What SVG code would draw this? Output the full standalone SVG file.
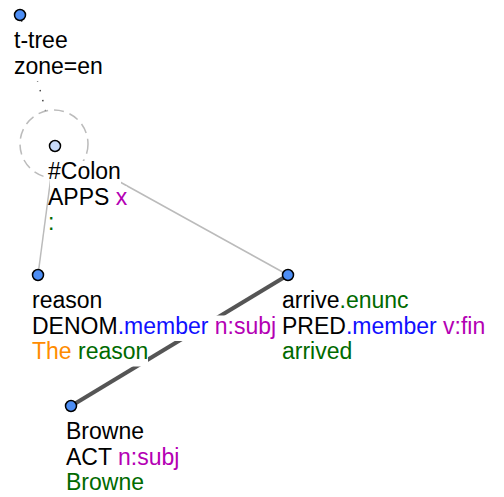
<svg xmlns="http://www.w3.org/2000/svg" width="504" height="497" viewBox="0 0 504 497">
<style>
text{font-family:"Liberation Sans",Arial,sans-serif;font-size:23px;fill:#000}
.bg{fill:#fff;stroke:none}
.b{fill:#1010ff}.m{fill:#b400b4}.g{fill:#006a00}.o{fill:#ff8c00}
.n{fill:#4d8ef5;stroke:#000;stroke-width:1.5}
.nc{fill:#c8daf8;stroke:#000;stroke-width:1.5}
.thin{stroke:#bbb;stroke-width:1.5;fill:none}
.thick{stroke:#555;stroke-width:4;fill:none}
.dot{stroke:#444;stroke-width:1.5;stroke-dasharray:1.5,8.8;stroke-dashoffset:-5.5;fill:none}
.halo{fill:#fff;stroke:#bbb;stroke-width:1.5;stroke-dasharray:10,6}
</style>
<g id="connectors">
<line class="dot" x1="20" y1="15" x2="55" y2="146"/>
<line class="thin" x1="55" y1="146" x2="38" y2="275"/>
<line class="thin" x1="55" y1="146" x2="288" y2="275"/>
<line class="thick" x1="288" y1="275" x2="71" y2="406"/>
</g>
<g id="root">
<circle class="n" cx="20" cy="15" r="5.5"/>
<rect class="bg" x="14" y="30" width="54" height="25.5"/>
<rect class="bg" x="14" y="55.5" width="89" height="25.5"/>
<text x="14" y="48">t-tree<tspan x="14" dy="25.5">zone=en</tspan></text>
</g>
<g id="colon">
<circle class="halo" cx="54" cy="144" r="34"/>
<circle class="nc" cx="55" cy="146" r="5.5"/>
<rect class="bg" x="50" y="161" width="71" height="25.5"/>
<rect class="bg" x="50" y="186.5" width="77" height="25.5"/>
<rect class="bg" x="50" y="212" width="5" height="25.5"/>
<text x="48" y="179">#Colon<tspan x="48" dy="25.5">APPS <tspan class="m">x</tspan></tspan><tspan x="48" dy="25.5" class="g">:</tspan></text>
</g>
<g id="reason">
<circle class="n" cx="38" cy="275" r="5.5"/>
<rect class="bg" x="32" y="290" width="70" height="25.5"/>
<rect class="bg" x="32" y="315.5" width="244" height="25.5"/>
<rect class="bg" x="32" y="341" width="116" height="25.5"/>
<text x="32" y="308">reason<tspan x="32" dy="25.5">DENOM<tspan class="b">.member</tspan> <tspan class="m">n:subj</tspan></tspan><tspan x="32" dy="25.5"><tspan class="o">The</tspan> <tspan class="g">reason</tspan></tspan></text>
</g>
<g id="arrive">
<circle class="n" cx="288" cy="275" r="5.5"/>
<rect class="bg" x="282" y="290" width="127" height="25.5"/>
<rect class="bg" x="282" y="315.5" width="203" height="25.5"/>
<rect class="bg" x="282" y="341" width="70" height="25.5"/>
<text x="282" y="308">arrive<tspan class="g">.enunc</tspan><tspan x="282" dy="25.5">PRED<tspan class="b">.member</tspan> <tspan class="m">v:fin</tspan></tspan><tspan x="282" dy="25.5" class="g">arrived</tspan></text>
</g>
<g id="browne">
<circle class="n" cx="71" cy="406" r="5.5"/>
<rect class="bg" x="66" y="421" width="78" height="25.5"/>
<rect class="bg" x="66" y="446.5" width="114" height="25.5"/>
<rect class="bg" x="66" y="472" width="78" height="25.5"/>
<text x="66" y="439">Browne<tspan x="66" dy="25.5">ACT <tspan class="m">n:subj</tspan></tspan><tspan x="66" dy="25.5" class="g">Browne</tspan></text>
</g>
</svg>
